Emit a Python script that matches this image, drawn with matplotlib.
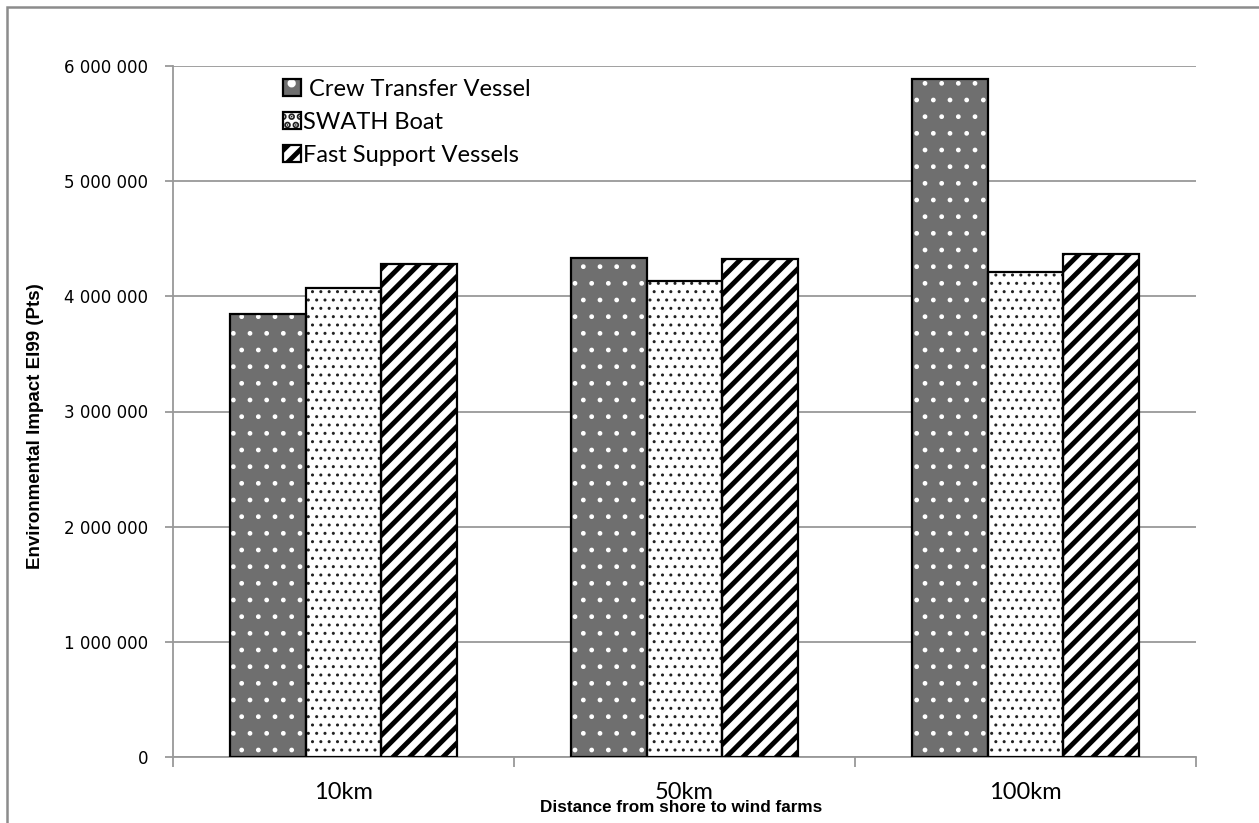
import matplotlib
matplotlib.use("Agg")
from matplotlib import pyplot as plt
from matplotlib.patches import Rectangle
import numpy as np

categories = ["10km", "50km", "100km"]
crew_transfer = [3850000, 4330000, 5890000]
swath_boat = [4070000, 4130000, 4210000]
fast_support = [4280000, 4320000, 4370000]
series_names = [" Crew Transfer Vessel", "SWATH Boat", "Fast Support Vessels"]
yticks = [0, 1000000, 2000000, 3000000, 4000000, 5000000, 6000000]

fig = plt.figure(figsize=(12.59, 8.23), dpi=100)
ax = fig.add_axes([0.1374, 0.0802, 0.8126, 0.8396])

x = np.arange(len(categories))
w = 0.222
styles = [
    dict(face="#6f6f6f", hatch=".", hcol="white", hlw=1.0),
    dict(face="white", hatch="..", hcol="#222222", hlw=1.0),
    dict(face="white", hatch="//", hcol="black", hlw=3.5),
]
series = [crew_transfer, swath_boat, fast_support]
handles = []
for i, (vals, st) in enumerate(zip(series, styles)):
    pos = x + (i - 1) * w
    plt.rcParams['hatch.linewidth'] = st["hlw"]
    ax.bar(pos, vals, w, color=st["face"], hatch=st["hatch"], edgecolor=st["hcol"],
           linewidth=0, zorder=2)
    ax.bar(pos, vals, w, fill=False, edgecolor="black", linewidth=1.6, zorder=3)
    fill = Rectangle((0, 0), 1, 1, facecolor=st["face"], hatch=st["hatch"],
                     edgecolor=st["hcol"], linewidth=0)
    border = Rectangle((0, 0), 1, 1, fill=False, edgecolor="black", linewidth=1.6)
    handles.append((fill, border))
plt.rcParams['hatch.linewidth'] = 3.5

ax.set_xlim(-0.5, 2.5)
ax.set_ylim(0, 6000000)
ax.set_yticks(yticks)
ax.set_yticklabels([f"{v:,}".replace(",", " ") for v in yticks], fontsize=12,
                   family="DejaVu Sans")
ax.yaxis.grid(True, color="#999999", linewidth=1.3, zorder=0)
ax.set_axisbelow(True)
ax.tick_params(axis="y", length=6, color="#999999", width=1.3, pad=12)

ax.set_xticks(x)
ax.set_xticklabels(categories, fontsize=17, family=["Lato", "DejaVu Sans"])
ax.set_xticks([-0.5, 0.5, 1.5, 2.5], minor=True)
ax.tick_params(axis="x", which="major", length=0, pad=18)
ax.tick_params(axis="x", which="minor", length=7, color="#999999", width=1.3)

for s in ["top", "right"]:
    ax.spines[s].set_visible(False)
for s in ["left", "bottom"]:
    ax.spines[s].set_color("#999999")
    ax.spines[s].set_linewidth(1.3)

fig.text(0.0278, 0.482, "Environmental Impact EI99 (Pts)", rotation=90, ha="center",
         va="center", fontsize=13.5, fontweight="bold", family=["Liberation Sans", "DejaVu Sans"])
fig.text(0.541, 0.0194, "Distance from shore to wind farms", ha="center", va="center",
         fontsize=12.3, fontweight="bold", family=["Liberation Sans", "DejaVu Sans"])

leg = ax.legend(handles, series_names, loc="upper left", bbox_to_anchor=(0.087, 1.012),
                frameon=False, handlelength=0.75, handleheight=0.75,
                handletextpad=0.1, labelspacing=0.5,
                prop={"family": ["Lato", "DejaVu Sans"], "size": 17})

fig.patches.append(Rectangle((0.0056, -0.05), 1.1, 1.0415, transform=fig.transFigure,
                             fill=False, edgecolor="#8c8c8c", linewidth=1.8))

fig.savefig("out.png", dpi=100)
